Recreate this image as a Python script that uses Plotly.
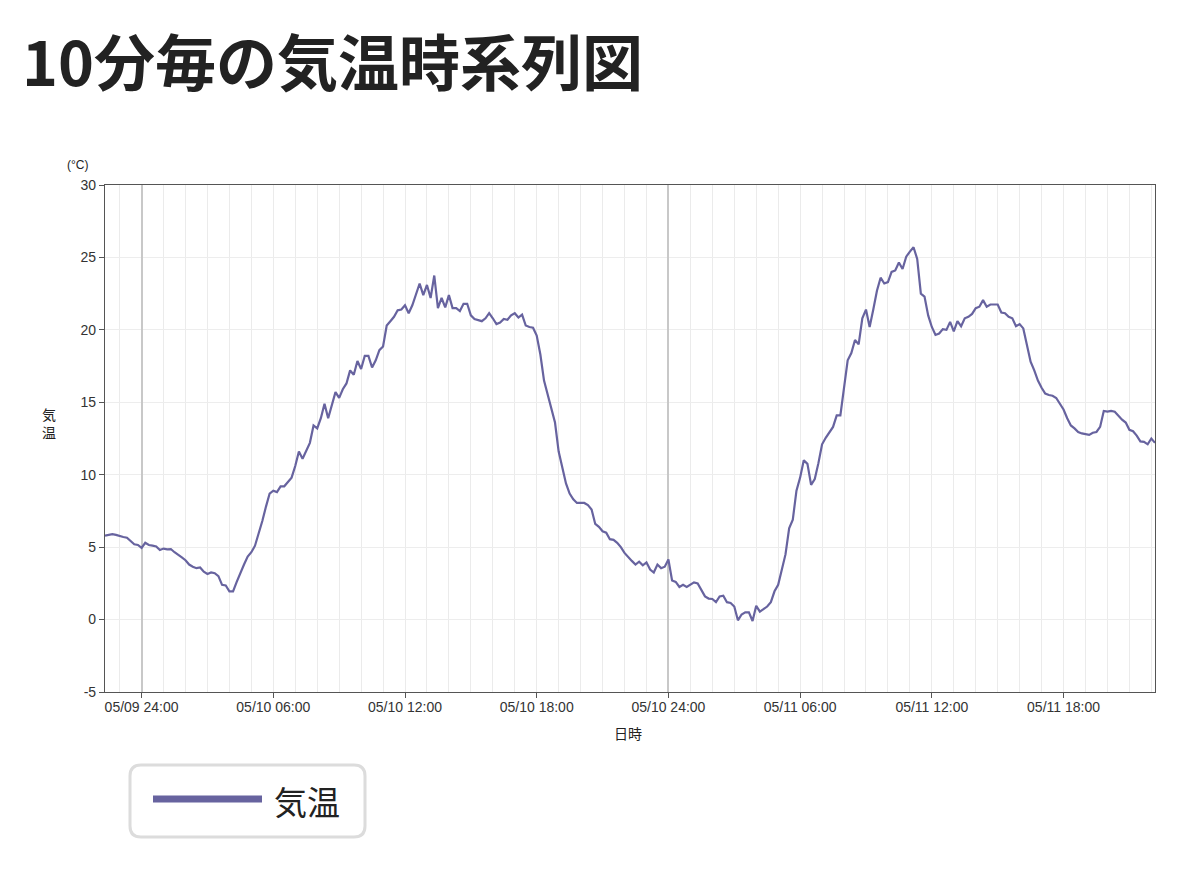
import pandas as pd
import plotly.graph_objects as go

# ---- data ----
start_time = "2024-05-09 22:20"
interval = "10min"
temperature = [
    5.8, 5.85, 5.9, 5.85, 5.75, 5.7, 5.65, 5.45, 5.2, 5.15,
    4.95, 5.3, 5.15, 5.1, 5.05, 4.8, 4.9, 4.85, 4.87, 4.65,
    4.5, 4.3, 4.1, 3.8, 3.65, 3.55, 3.6, 3.3, 3.15, 3.25,
    3.2, 3.0, 2.4, 2.35, 1.95, 1.95, 2.6, 3.25, 3.8, 4.35,
    4.65, 5.1, 5.9, 6.8, 7.8, 8.7, 8.9, 8.8, 9.2, 9.2,
    9.5, 9.8, 10.6, 11.6, 11.1, 11.6, 12.2, 13.4, 13.2, 13.9,
    14.9, 13.9, 14.9, 15.7, 15.3, 15.9, 16.3, 17.2, 16.9, 17.85,
    17.3, 18.2, 18.2, 17.4, 17.9, 18.6, 18.85, 20.3, 20.6, 20.9,
    21.35, 21.4, 21.7, 21.15, 21.7, 22.4, 23.2, 22.4, 23.1, 22.2,
    23.75, 21.5, 22.2, 21.55, 22.4, 21.5, 21.5, 21.3, 21.8, 21.8,
    21.0, 20.75, 20.7, 20.6, 20.8, 21.15, 20.8, 20.4, 20.5, 20.75,
    20.7, 21.0, 21.15, 20.85, 21.05, 20.3, 20.2, 20.15, 19.6, 18.3,
    16.5, 15.5, 14.6, 13.6, 11.6, 10.4, 9.4, 8.7, 8.3, 8.05,
    8.05, 8.05, 7.9, 7.6, 6.6, 6.4, 6.1, 6.0, 5.55, 5.5,
    5.3, 5.0, 4.6, 4.3, 4.05, 3.8, 4.0, 3.75, 3.95, 3.45,
    3.25, 3.8, 3.55, 3.65, 4.15, 2.7, 2.6, 2.25, 2.4, 2.25,
    2.4, 2.57, 2.5, 2.05, 1.6, 1.45, 1.42, 1.2, 1.6, 1.65,
    1.2, 1.15, 0.9, -0.05, 0.35, 0.5, 0.5, -0.1, 0.95, 0.55,
    0.7, 0.9, 1.2, 1.95, 2.4, 3.4, 4.5, 6.3, 6.9, 8.9,
    9.8, 11.0, 10.75, 9.3, 9.7, 10.8, 12.1, 12.55, 12.95, 13.3,
    14.1, 14.1, 16.0, 17.9, 18.4, 19.3, 19.0, 20.8, 21.4, 20.2,
    21.4, 22.7, 23.6, 23.2, 23.3, 24.0, 24.1, 24.65, 24.2, 25.05,
    25.4, 25.7, 24.9, 22.5, 22.3, 21.0, 20.2, 19.65, 19.75, 20.05,
    20.0, 20.55, 19.9, 20.6, 20.25, 20.8, 20.9, 21.1, 21.5, 21.6,
    22.05, 21.6, 21.75, 21.75, 21.75, 21.2, 21.15, 20.9, 20.8, 20.25,
    20.4, 20.1, 19.0, 17.8, 17.2, 16.5, 16.0, 15.6, 15.5, 15.45,
    15.3, 14.9, 14.5, 13.9, 13.4, 13.2, 12.95, 12.85, 12.8, 12.75,
    12.9, 12.95, 13.3, 14.4, 14.35, 14.4, 14.35, 14.05, 13.8, 13.6,
    13.1, 13.0, 12.7, 12.3, 12.27, 12.1, 12.5, 12.2,
]
times = pd.date_range(start_time, periods=len(temperature), freq=interval)

tick_positions = [
    "2024-05-10 00:00", "2024-05-10 06:00", "2024-05-10 12:00", "2024-05-10 18:00",
    "2024-05-11 00:00", "2024-05-11 06:00", "2024-05-11 12:00", "2024-05-11 18:00",
]
tick_labels = [
    "05/09 24:00", "05/10 06:00", "05/10 12:00", "05/10 18:00",
    "05/10 24:00", "05/11 06:00", "05/11 12:00", "05/11 18:00",
]
day_boundaries = ["2024-05-10 00:00", "2024-05-11 00:00"]
y_ticks = [-5, 0, 5, 10, 15, 20, 25, 30]
y_tick_labels = ["-5", "0", "5", "10", "15", "20", "25", "30"]

series_name = "気温"
title_text = "10分毎の気温時系列図"
line_color = "#67639f"

# ---- figure ----
fig = go.Figure()
# empty helper trace so the overlay axis (day-boundary grid) is rendered
fig.add_trace(go.Scatter(
    x=[times[0]], y=[None], xaxis="x2", yaxis="y", mode="lines",
    showlegend=False, hoverinfo="skip",
))
fig.add_trace(go.Scatter(
    x=times, y=temperature, mode="lines", name=series_name,
    line=dict(color=line_color, width=2.2), showlegend=False,
))

tick_font = dict(family="Liberation Sans, Arial, sans-serif", size=14, color="#333")
x_range = [times[0], times[-1]]

fig.update_layout(
    width=1179, height=879,
    paper_bgcolor="white", plot_bgcolor="white",
    margin=dict(l=97, r=32, t=177, b=195),
    title=dict(
        text=title_text, x=14 / 1179, xanchor="left", xref="container",
        y=1 - 57 / 879, yanchor="middle", yref="container",
        font=dict(family="Noto Sans CJK JP", size=61, color="#222", weight="bold"),
    ),
    showlegend=False,
    xaxis=dict(
        range=x_range,
        tickmode="array", tickvals=tick_positions, ticktext=tick_labels,
        showgrid=False, ticks="outside", ticklen=5, tickcolor="#555",
        showline=True, linecolor="#555", linewidth=1.2, mirror=True,
        tickfont=tick_font, zeroline=False, ticklabelstandoff=-3,
        minor=dict(tickmode="linear", tick0="2024-05-10 00:00", dtick=3600000,
                   showgrid=True, gridcolor="#ebebeb", gridwidth=1, ticks=""),
    ),
    # overlay axis used only for the darker day-boundary grid lines
    xaxis2=dict(
        type="date", range=x_range, overlaying="x", anchor="y", side="top",
        tickmode="array", tickvals=day_boundaries,
        showgrid=True, gridcolor="#c8c8c8", gridwidth=1.5,
        showticklabels=False, ticks="", showline=False, zeroline=False,
    ),
    yaxis=dict(
        range=[-5, 30], tickmode="array", tickvals=y_ticks, ticktext=y_tick_labels,
        showgrid=True, gridcolor="#ededed", gridwidth=1,
        ticks="outside", ticklen=5, tickcolor="#555",
        showline=True, linecolor="#555", linewidth=1.2, mirror=True,
        tickfont=tick_font, zeroline=False,
    ),
)

label_font = dict(family="Noto Sans CJK JP", size=14, color="#222")


def px_x(p):
    return (p - 105) / 1050


def px_y(p):
    return (692 - p) / 507


# axis titles
fig.add_annotation(text="(°C)", xref="paper", yref="paper",
                   x=px_x(77), y=px_y(165),
                   showarrow=False, xanchor="center", yanchor="middle",
                   font=dict(family="Liberation Sans, Arial", size=12, color="#222"))
fig.add_annotation(text="気<br>温", xref="paper", yref="paper",
                   x=px_x(49), y=px_y(423),
                   showarrow=False, xanchor="center", yanchor="middle",
                   font=label_font)
fig.add_annotation(text="日時", xref="paper", yref="paper",
                   x=px_x(628), y=px_y(733),
                   showarrow=False, xanchor="center", yanchor="middle",
                   font=label_font)

# legend (custom box)
lx0, lx1, ly0, ly1, r = 130, 365, 765, 837, 11
path = (
    f"M {px_x(lx0 + r)},{px_y(ly0)} L {px_x(lx1 - r)},{px_y(ly0)} "
    f"Q {px_x(lx1)},{px_y(ly0)} {px_x(lx1)},{px_y(ly0 + r)} "
    f"L {px_x(lx1)},{px_y(ly1 - r)} Q {px_x(lx1)},{px_y(ly1)} {px_x(lx1 - r)},{px_y(ly1)} "
    f"L {px_x(lx0 + r)},{px_y(ly1)} Q {px_x(lx0)},{px_y(ly1)} {px_x(lx0)},{px_y(ly1 - r)} "
    f"L {px_x(lx0)},{px_y(ly0 + r)} Q {px_x(lx0)},{px_y(ly0)} {px_x(lx0 + r)},{px_y(ly0)} Z"
)
fig.add_shape(type="path", path=path, xref="paper", yref="paper",
              line=dict(color="#dcdcdc", width=3), fillcolor="white")
fig.add_shape(type="line", xref="paper", yref="paper",
              x0=px_x(153), x1=px_x(262), y0=px_y(799), y1=px_y(799),
              line=dict(color=line_color, width=7))
fig.add_annotation(text=series_name, xref="paper", yref="paper",
                   x=px_x(272), y=px_y(801), xanchor="left", yanchor="middle",
                   showarrow=False,
                   font=dict(family="Noto Sans CJK JP", size=33, color="#222"))

fig.write_html("out.html")
